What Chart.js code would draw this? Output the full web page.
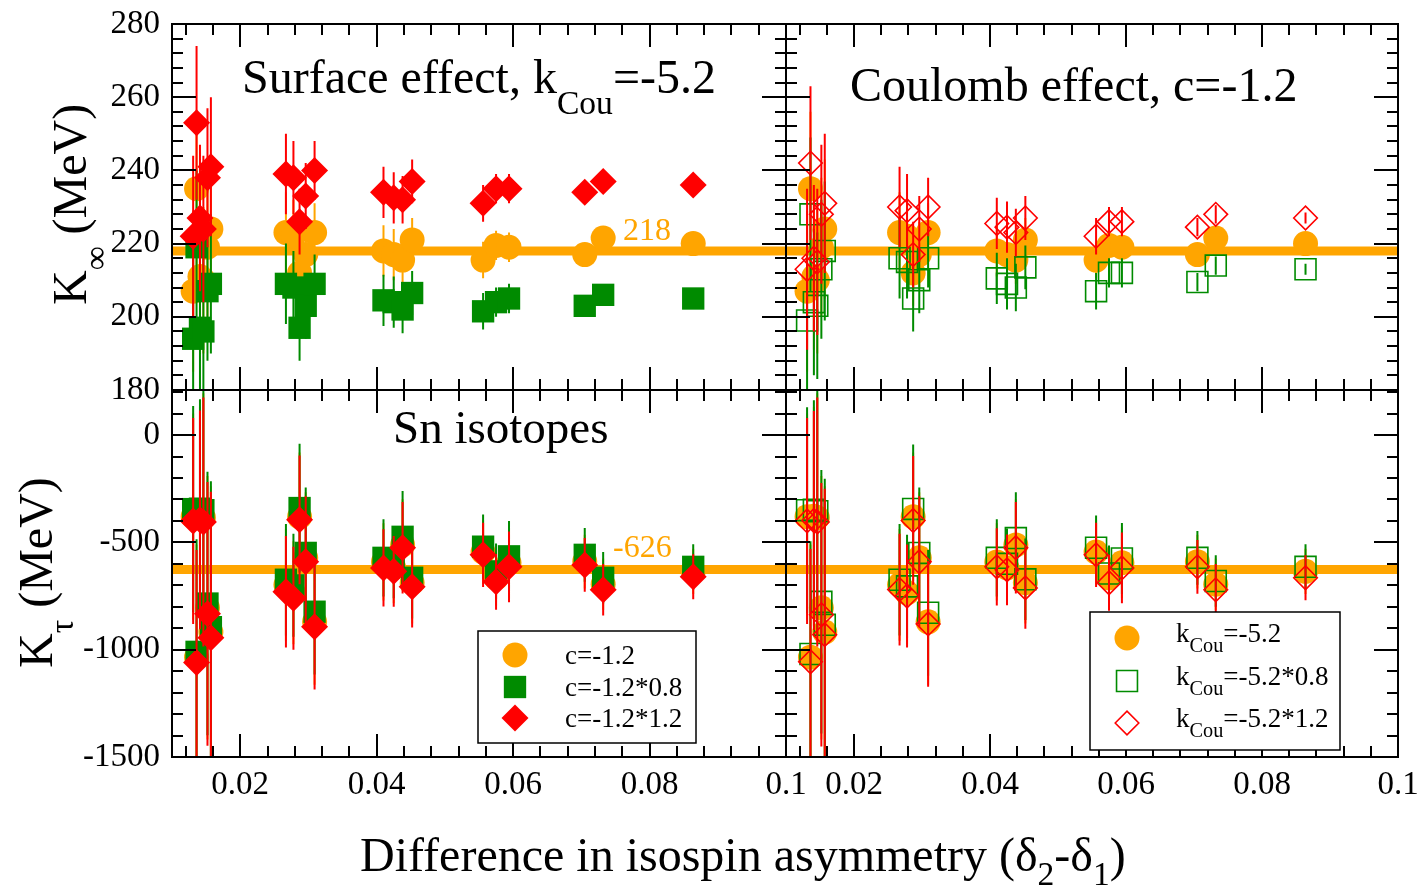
<!DOCTYPE html>
<html>
<head>
<meta charset="utf-8">
<title>K_inf and K_tau from Sn isotope pairs</title>
<script src="https://cdn.jsdelivr.net/npm/chart.js@4.4.1/dist/chart.umd.min.js"></script>
<style>
  body { margin: 0; background: #fff; }
  #wrap { position: relative; width: 1422px; height: 889px; }
  #wrap canvas { position: absolute; left: 0; top: 0; }
</style>
</head>
<body>
<div id="wrap">
  <canvas id="kinfSurf" width="1422" height="889"></canvas>
  <canvas id="kinfCoul" width="1422" height="889"></canvas>
  <canvas id="ktauSurf" width="1422" height="889"></canvas>
  <canvas id="ktauCoul" width="1422" height="889"></canvas>
</div>
<script>
// isospin asymmetry difference of each Sn pair
const delta = [0.0131, 0.0136, 0.0141, 0.0146, 0.0152, 0.0157,
  0.0267, 0.0278, 0.0287, 0.0296, 0.0309,
  0.0410, 0.0425, 0.0438, 0.0452,
  0.0556, 0.0575, 0.0594,
  0.0705, 0.0732,
  0.0864];

// K_inf (MeV): base fit, c scaled by 0.8 / 1.2, k_Cou scaled by 0.8 / 1.2
const kinfBase = [207, 235, 211, 210, 219, 224, 223, 222, 212, 217, 223, 218, 217, 215.5, 221, 215.5, 219.5, 219, 217, 221.5, 220];
const kinfC08 = [194, 219, 197, 196, 207, 209, 209, 208, 197, 203, 209, 204.5, 204, 202, 206.5, 201.5, 204, 205, 203, 206, 205];
const kinfC12 = [222, 253, 227, 224, 238, 241, 239, 238, 226, 233, 240, 234, 232.5, 232, 237, 231, 235, 235, 234, 237, 236];
const kinfK08 = [199, 228, 204, 203, 213, 218, 216, 215, 205, 210, 216, 210.5, 209, 208, 213.5, 207, 212, 212, 209.5, 214, 213];
const kinfK12 = [213, 242, 216, 215, 228, 231, 230, 229, 217, 224, 230, 225.5, 224.5, 223, 227, 222, 226, 226, 224.5, 228, 227];
const kinfErr = [22, 21, 20, 20, 19, 19, 11, 10, 9, 9, 8, 7, 7, 6.5, 6, 5, 4, 4, 2.5, 2.5, 1.5];

// K_tau (MeV), same five settings
const ktauBase = [-380, -1035, -378, -385, -805, -918, -698, -735, -381, -572, -870, -591, -619, -512, -688, -545, -665, -595, -590, -695, -635];
const ktauC08 = [-345, -1010, -343, -350, -785, -895, -674, -700, -340, -549, -823, -572, -595, -474, -665, -520, -635, -565, -558, -665, -614];
const ktauC12 = [-400, -1060, -395, -405, -833, -944, -730, -760, -395, -590, -893, -619, -635, -525, -707, -558, -684, -614, -605, -721, -660];
const ktauK08 = [-350, -1020, -348, -355, -777, -884, -674, -705, -344, -549, -828, -572, -600, -480, -672, -525, -645, -575, -572, -680, -614];
const ktauK12 = [-400, -1056, -398, -405, -837, -930, -720, -750, -398, -590, -880, -614, -628, -525, -712, -558, -688, -619, -614, -721, -665];
const ktauErr = [480, 525, 510, 580, 614, 680, 260, 240, 300, 305, 293, 180, 165, 213, 190, 150, 130, 165, 125, 120, 105];

// averages drawn as horizontal bands
const kinfFit = 218;
const ktauFit = -626;

const xRange = [0.01, 0.1];
const kinfRange = [180, 280];
const ktauRange = [-1500, 210];
const xTicks = [0.02, 0.04, 0.06, 0.08, 0.1];
const xTickText = ['0.02', '0.04', '0.06', '0.08', '0.1'];
const kinfTicks = [180, 200, 220, 240, 260, 280];
const ktauTicks = [-1500, -1000, -500, 0];

const W = 1422, H = 889;
const AXIS_W = 100, AXIS_H = 60;   // room kept for tick labels
const ORANGE = '#ffa500', GREEN = '#008b00', RED = '#ff0000';
const SERIF = '"Liberation Serif", "Times New Roman", serif';
Chart.defaults.font.family = SERIF;
Chart.defaults.color = '#000';

// marker looks
const dot = {pointStyle: 'circle', pointRadius: 12.5, pointBackgroundColor: ORANGE, pointBorderColor: ORANGE, pointBorderWidth: 0};
const boxFill = {pointStyle: 'rect', pointRadius: 15.8, pointBackgroundColor: GREEN, pointBorderColor: GREEN, pointBorderWidth: 0};
const diaFill = {pointStyle: 'rectRot', pointRadius: 13.5, pointBackgroundColor: RED, pointBorderColor: RED, pointBorderWidth: 0};
const boxOpen = {pointStyle: 'rect', pointRadius: 14.8, pointBackgroundColor: 'rgba(0,0,0,0)', pointBorderColor: GREEN, pointBorderWidth: 1.6};
const diaOpen = {pointStyle: 'rectRot', pointRadius: 11.8, pointBackgroundColor: 'rgba(0,0,0,0)', pointBorderColor: RED, pointBorderWidth: 1.6};

const pts = vals => delta.map((d, i) => ({x: d, y: vals[i]}));

// vertical error bars as one broken line per series
function bars(vals, err) {
  const out = [];
  delta.forEach((d, i) => {
    out.push({x: d, y: vals[i] - err[i]}, {x: d, y: vals[i] + err[i]}, {x: d, y: null});
  });
  return out;
}

function series(vals, err, color, marker, order) {
  return [
    {data: bars(vals, err), showLine: true, spanGaps: false, borderColor: color, borderWidth: 2, pointRadius: 0, order: order + 1},
    Object.assign({data: pts(vals), showLine: false, order: order}, marker)
  ];
}

function fitLine(v) {
  return {data: [{x: xRange[0], y: v}, {x: xRange[1], y: v}], showLine: true,
    borderColor: ORANGE, borderWidth: 9, pointRadius: 0, order: 20};
}

// inward ticks on all four sides plus the box
function tickList(min, max, minor, major) {
  const out = [], eps = minor * 1e-6;
  for (let k = Math.ceil(min / minor - 1e-6); k * minor < max - eps; k++) {
    const v = k * minor;
    if (v <= min + eps) continue;
    out.push([v, Math.abs(v / major - Math.round(v / major)) < 1e-6]);
  }
  return out;
}

const framePlugin = {
  id: 'frame',
  defaults: {xMinor: 0.004, xMajor: 0.02, yMinor: 4, yMajor: 20},
  afterDatasetsDraw(chart, args, o) {
    const {ctx, chartArea: a, scales: {x, y}} = chart;
    ctx.save();
    ctx.strokeStyle = '#000';
    ctx.lineWidth = 2;
    ctx.beginPath();
    for (const [v, big] of tickList(x.min, x.max, o.xMinor, o.xMajor)) {
      const p = Math.round(x.getPixelForValue(v));
      const len = big ? 23 : 11;
      ctx.moveTo(p, a.bottom); ctx.lineTo(p, a.bottom - len);
      ctx.moveTo(p, a.top); ctx.lineTo(p, a.top + len);
    }
    for (const [v, big] of tickList(y.min, y.max, o.yMinor, o.yMajor)) {
      const p = Math.round(y.getPixelForValue(v));
      const len = big ? 24 : 11;
      ctx.moveTo(a.left, p); ctx.lineTo(a.left + len, p);
      ctx.moveTo(a.right, p); ctx.lineTo(a.right - len, p);
    }
    ctx.rect(a.left, a.top, a.right - a.left, a.bottom - a.top);
    ctx.stroke();
    ctx.restore();
  }
};
Chart.register(framePlugin);

// text with subscripts: runs = [[text, isSub], ...]
function drawRuns(ctx, it) {
  ctx.save();
  ctx.translate(it.x, it.y);
  if (it.rot) ctx.rotate(it.rot);
  ctx.fillStyle = it.color || '#000';
  ctx.textBaseline = 'alphabetic';
  ctx.textAlign = 'left';
  let cx = 0;
  for (const [t, sub] of it.runs) {
    const size = sub ? it.size * (it.subScale || 0.7) : it.size;
    ctx.font = size + 'px ' + SERIF;
    ctx.fillText(t, cx, sub ? it.size * (it.subDrop || 0.43) : 0);
    cx += ctx.measureText(t).width;
  }
  ctx.restore();
}

function drawLegend(ctx, lg) {
  ctx.save();
  ctx.fillStyle = '#fff';
  ctx.fillRect(lg.box[0], lg.box[1], lg.box[2] - lg.box[0], lg.box[3] - lg.box[1]);
  ctx.strokeStyle = '#000';
  ctx.lineWidth = 1.5;
  ctx.strokeRect(lg.box[0], lg.box[1], lg.box[2] - lg.box[0], lg.box[3] - lg.box[1]);
  lg.entries.forEach((e, i) => {
    const m = e.marker, y = lg.rows[i];
    ctx.fillStyle = m.pointBackgroundColor;
    ctx.strokeStyle = m.pointBorderColor;
    ctx.lineWidth = m.pointBorderWidth;
    Chart.helpers.drawPoint(ctx, {pointStyle: m.pointStyle, radius: m.pointRadius, rotation: 0, borderWidth: m.pointBorderWidth}, lg.markX, y);
    drawRuns(ctx, {x: lg.textX, y: y + lg.base, runs: e.runs, size: 27, subScale: 0.75, subDrop: 0.37});
  });
  ctx.restore();
}

const titleSurface = [['Surface effect, k'], ['Cou', 1], ['=-5.2']];
const titleCoulomb = [['Coulomb effect, c=-1.2']];
const titleSn = [['Sn isotopes']];
const yTitleTop = [['K'], ['\u221e', 1], [' (MeV)']];
const yTitleBottom = [['K'], ['\u03c4', 1], [' (MeV)']];
const xTitle = [['Difference in isospin asymmetry (\u03b4'], ['2', 1], ['-\u03b4'], ['1', 1], [')']];

const legendC = {
  box: [478, 631, 696, 743], markX: 515, textX: 565, rows: [655, 687, 718], base: 9,
  entries: [
    {marker: dot, runs: [['c=-1.2']]},
    {marker: boxFill, runs: [['c=-1.2*0.8']]},
    {marker: diaFill, runs: [['c=-1.2*1.2']]}
  ]
};
const legendK = {
  box: [1090, 612, 1340, 750], markX: 1127, textX: 1176, rows: [638, 681, 723], base: 4,
  entries: [
    {marker: dot, runs: [['k'], ['Cou', 1], ['=-5.2']]},
    {marker: boxOpen, runs: [['k'], ['Cou', 1], ['=-5.2*0.8']]},
    {marker: diaOpen, runs: [['k'], ['Cou', 1], ['=-5.2*1.2']]}
  ]
};

function axis(range, ticks, labels, show, pad) {
  return {
    type: 'linear', min: range[0], max: range[1], display: show,
    ticks: {padding: pad, font: {size: 33}, color: '#000', autoSkip: false, maxRotation: 0,
      callback: (v, i) => labels[i]},
    grid: {display: false, drawTicks: false},
    border: {display: false},
    afterBuildTicks: s => { s.ticks = ticks.map(v => ({value: v})); },
    afterFit: s => {
      if (s.isHorizontal()) s.height = show ? AXIS_H : 0;
      else s.width = show ? AXIS_W : 0;
      s.paddingLeft = s.paddingRight = s.paddingTop = s.paddingBottom = 0;
    }
  };
}

function panel(id, box, yRange, yTicks, yFrame, showX, showY, sets, draw) {
  const [l, t, r, b] = box;
  return new Chart(document.getElementById(id), {
    type: 'scatter',
    data: {datasets: sets},
    options: {
      responsive: false, animation: false, devicePixelRatio: 1, events: [],
      layout: {padding: {
        left: l - (showY ? AXIS_W : 0), top: t, right: W - r,
        bottom: H - b - (showX ? AXIS_H : 0)
      }},
      plugins: {legend: {display: false}, tooltip: {enabled: false}, frame: yFrame},
      scales: {
        x: axis(xRange, xTicks, xTickText, showX, 9),
        y: axis(yRange, yTicks, yTicks.map(String), showY, 12)
      }
    },
    plugins: [{id: 'texts', afterDraw: draw}]
  });
}

const topFrame = {xMinor: 0.004, xMajor: 0.02, yMinor: 4, yMajor: 20};
const botFrame = {xMinor: 0.004, xMajor: 0.02, yMinor: 100, yMajor: 500};

// K_inf, surface term scan
panel('kinfSurf', [172, 24, 786, 390], kinfRange, kinfTicks, topFrame, false, true, [
  fitLine(kinfFit),
  ...series(kinfBase, kinfErr, ORANGE, dot, 11),
  ...series(kinfC08, kinfErr, GREEN, boxFill, 9),
  ...series(kinfC12, kinfErr, RED, diaFill, 7)
], chart => {
  const ctx = chart.ctx, y = chart.scales.y;
  drawRuns(ctx, {x: 242, y: 93, runs: titleSurface, size: 48});
  drawRuns(ctx, {x: 86, y: 305, rot: -Math.PI / 2, runs: yTitleTop, size: 48});
  drawRuns(ctx, {x: 623, y: y.getPixelForValue(kinfFit) - 11, runs: [[String(kinfFit)]], size: 32, color: ORANGE});
});

// K_inf, Coulomb term scan
panel('kinfCoul', [786, 24, 1398, 390], kinfRange, kinfTicks, topFrame, false, false, [
  fitLine(kinfFit),
  ...series(kinfBase, kinfErr, ORANGE, dot, 11),
  ...series(kinfK08, kinfErr, GREEN, boxOpen, 9),
  ...series(kinfK12, kinfErr, RED, diaOpen, 7)
], chart => {
  drawRuns(chart.ctx, {x: 850, y: 101, runs: titleCoulomb, size: 48});
});

// K_tau, surface term scan
panel('ktauSurf', [172, 390, 786, 757], ktauRange, ktauTicks, botFrame, true, true, [
  fitLine(ktauFit),
  ...series(ktauBase, ktauErr, ORANGE, dot, 11),
  ...series(ktauC08, ktauErr, GREEN, boxFill, 9),
  ...series(ktauC12, ktauErr, RED, diaFill, 7)
], chart => {
  const ctx = chart.ctx, y = chart.scales.y;
  drawRuns(ctx, {x: 393, y: 443, runs: titleSn, size: 47});
  drawRuns(ctx, {x: 52, y: 668, rot: -Math.PI / 2, runs: yTitleBottom, size: 48});
  drawRuns(ctx, {x: 613, y: y.getPixelForValue(ktauFit) - 12, runs: [[String(ktauFit)]], size: 32, color: ORANGE});
  drawLegend(ctx, legendC);
  drawRuns(ctx, {x: 360, y: 871, runs: xTitle, size: 48, subDrop: 0.3});
});

// K_tau, Coulomb term scan
panel('ktauCoul', [786, 390, 1398, 757], ktauRange, ktauTicks, botFrame, true, false, [
  fitLine(ktauFit),
  ...series(ktauBase, ktauErr, ORANGE, dot, 11),
  ...series(ktauK08, ktauErr, GREEN, boxOpen, 9),
  ...series(ktauK12, ktauErr, RED, diaOpen, 7)
], chart => {
  drawLegend(chart.ctx, legendK);
});
</script>
</body>
</html>
